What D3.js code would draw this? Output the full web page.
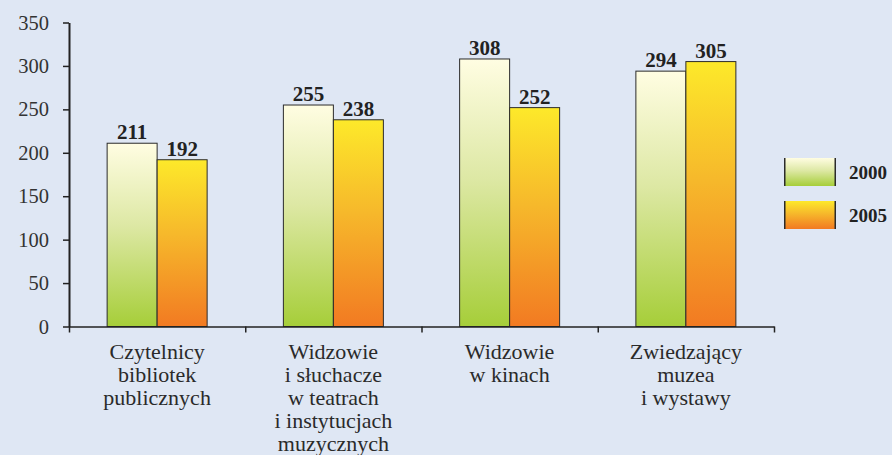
<!DOCTYPE html>
<html>
<head>
<meta charset="utf-8">
<script src="https://cdn.jsdelivr.net/npm/d3@7"></script>
<style>
  html, body { margin: 0; padding: 0; background: #dfe7f4; }
  svg { display: block; }
</style>
</head>
<body>
<script>
// Categories (multi-line labels) and values per year
const categories = [
  ["Czytelnicy", "bibliotek", "publicznych"],
  ["Widzowie", "i słuchacze", "w teatrach", "i instytucjach", "muzycznych"],
  ["Widzowie", "w kinach"],
  ["Zwiedzający", "muzea", "i wystawy"]
];
const seriesNames = ["2000", "2005"];
const values2000 = [211, 255, 308, 294];
const values2005 = [192, 238, 252, 305];
const yTicks = [0, 50, 100, 150, 200, 250, 300, 350];

const W = 892, H = 455;
const margin = { left: 69, right: 118, top: 22.5, bottom: 128.5 };
const serif = "'Liberation Serif', 'Times New Roman', serif";

const svg = d3.select("body").append("svg")
  .attr("width", W).attr("height", H);

svg.append("rect").attr("width", W).attr("height", H).attr("fill", "#dfe7f4");

// Gradients for each series
const defs = svg.append("defs");
const gradStops = {
  "2000": [["0%", "#fffde2"], ["45%", "#dde8a4"], ["100%", "#a6ce39"]],
  "2005": [["0%", "#fde92a"], ["45%", "#f6b82b"], ["100%", "#f27a22"]]
};
seriesNames.forEach(s => {
  const g = defs.append("linearGradient")
    .attr("id", "grad" + s)
    .attr("x1", 0).attr("y1", 0).attr("x2", 0).attr("y2", 1);
  gradStops[s].forEach(([o, c]) => g.append("stop").attr("offset", o).attr("stop-color", c));
});

const keys = categories.map((c, i) => "c" + i);
const x0 = d3.scaleBand().domain(keys).range([margin.left, W - margin.right]).padding(0);
const bw = x0.bandwidth();
const x1 = d3.scaleBand().domain(seriesNames).range([bw / 2 - 50, bw / 2 + 50]).padding(0);
const y = d3.scaleLinear().domain([0, 350]).range([H - margin.bottom, margin.top]);

const data = keys.map((k, i) => ({
  key: k,
  vals: [
    { s: "2000", v: values2000[i] },
    { s: "2005", v: values2005[i] }
  ]
}));

// Bars
const groups = svg.append("g").selectAll("g").data(data).join("g")
  .attr("transform", d => `translate(${x0(d.key)},0)`);

groups.selectAll("rect").data(d => d.vals).join("rect")
  .attr("x", d => x1(d.s))
  .attr("y", d => y(d.v))
  .attr("width", x1.bandwidth())
  .attr("height", d => y(0) - y(d.v))
  .attr("fill", d => `url(#grad${d.s})`)
  .attr("stroke", "#2b2b2b")
  .attr("stroke-width", 1);

// Value labels
groups.selectAll("text.val").data(d => d.vals).join("text")
  .attr("class", "val")
  .attr("x", d => x1(d.s) + x1.bandwidth() / 2)
  .attr("y", d => y(d.v) - 4)
  .attr("text-anchor", "middle")
  .attr("font-family", serif)
  .attr("font-weight", "bold")
  .attr("font-size", 21)
  .attr("fill", "#222")
  .text(d => d.v);

// Y axis
const yAxis = svg.append("g")
  .attr("transform", `translate(${margin.left},0)`)
  .call(d3.axisLeft(y).tickValues(yTicks).tickSize(6).tickPadding(14).tickSizeOuter(0));
yAxis.select(".domain").attr("stroke", "#222").attr("stroke-width", 2);
yAxis.selectAll(".tick line").attr("stroke", "#222").attr("stroke-width", 1.5);
yAxis.selectAll(".tick text")
  .attr("font-family", serif).attr("font-size", 20.5).attr("fill", "#333");

// X axis with ticks at category boundaries
const xb = d3.scaleLinear().domain([0, keys.length]).range([margin.left, W - margin.right]);
const xAxis = svg.append("g")
  .attr("transform", `translate(0,${y(0)})`)
  .call(d3.axisBottom(xb).tickValues(d3.range(keys.length + 1)).tickSize(6).tickSizeOuter(0).tickFormat(""));
xAxis.select(".domain").attr("stroke", "#222").attr("stroke-width", 1.5);
xAxis.selectAll(".tick line").attr("stroke", "#222").attr("stroke-width", 1.5);

// Category labels
const catLabels = svg.append("g").selectAll("text").data(data).join("text")
  .attr("x", d => x0(d.key) + bw / 2)
  .attr("y", y(0) + 32)
  .attr("text-anchor", "middle")
  .attr("font-family", serif)
  .attr("font-size", 22)
  .attr("fill", "#2a2a2a");
catLabels.each(function(d, i) {
  d3.select(this).selectAll("tspan").data(categories[i]).join("tspan")
    .attr("x", x0(d.key) + bw / 2)
    .attr("dy", (t, j) => j === 0 ? 0 : 23)
    .text(t => t);
});

// Legend
const legend = svg.append("g").selectAll("g").data(seriesNames).join("g")
  .attr("transform", (d, i) => `translate(784,${158 + i * 43})`);
legend.append("rect")
  .attr("width", 52).attr("height", 28)
  .attr("fill", d => `url(#grad${d})`);
legend.append("line").attr("x1", 0.75).attr("x2", 0.75).attr("y1", 0).attr("y2", 28)
  .attr("stroke", "#2b2b2b").attr("stroke-width", 1.5);
legend.append("line").attr("x1", 51.25).attr("x2", 51.25).attr("y1", 0).attr("y2", 28)
  .attr("stroke", "#2b2b2b").attr("stroke-width", 1.5);
legend.append("text")
  .attr("x", 65).attr("y", 21)
  .attr("font-family", serif).attr("font-weight", "bold").attr("font-size", 19)
  .attr("fill", "#222")
  .text(d => d);
</script>
</body>
</html>
